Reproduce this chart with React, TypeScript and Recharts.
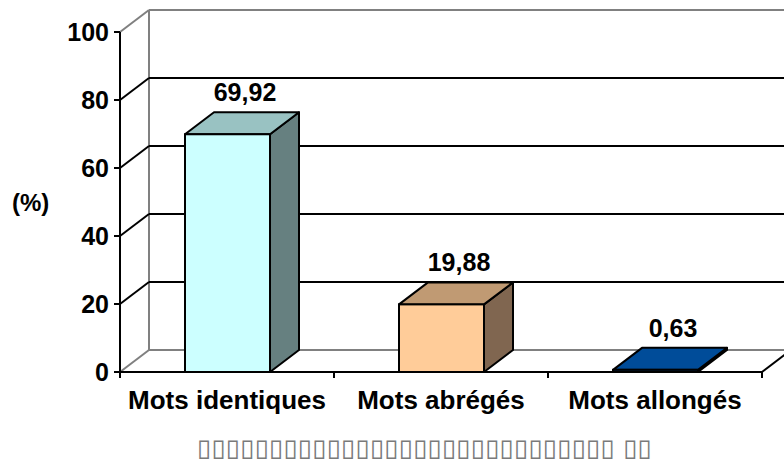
import React from 'react';
import { BarChart, Bar, XAxis, YAxis, CartesianGrid, LabelList } from 'recharts';

const categories = ['Mots identiques', 'Mots abrégés', 'Mots allongés'];
const values = [69.92, 19.88, 0.63];
const valueLabels = ['69,92', '19,88', '0,63'];
const yTicks = [0, 20, 40, 60, 80, 100];
const titleText = '▯▯▯▯▯▯▯▯▯▯▯▯▯▯▯▯▯▯▯▯▯▯▯▯▯▯▯▯▯ ▯▯';

const frontColors = ['#CCFFFF', '#FFCC99', '#004C99'];
const topColors = ['#99C2C2', '#C09A73', '#004C99'];
const sideColors = ['#668080', '#806650', '#003366'];

const data = categories.map((c, i) => ({ name: c, value: values[i], label: valueLabels[i] }));

const DX = 29;
const DY = 22;
const FONT = '"Liberation Sans", Arial, Helvetica, sans-serif';

const Box3D = (p: any) => {
  const { x, y, width, height, index } = p;
  if (x == null || y == null) return null;
  const w = width;
  const h = height;
  const top = `${x},${y} ${x + DX},${y - DY} ${x + w + DX},${y - DY} ${x + w},${y}`;
  const side = `${x + w},${y} ${x + w + DX},${y - DY} ${x + w + DX},${y + h - DY} ${x + w},${y + h}`;
  return (
    <g>
      <polygon points={side} fill={sideColors[index]} stroke="#000" strokeWidth={2} strokeLinejoin="round" />
      <polygon points={top} fill={topColors[index]} stroke="#000" strokeWidth={2} strokeLinejoin="round" />
      <rect x={x} y={y} width={w} height={h} fill={frontColors[index]} stroke="#000" strokeWidth={2} />
    </g>
  );
};

const gridLine = (p: any) => {
  const { x, y, width, height, y1, index } = p;
  const isEdge = Math.abs(y1 - (y + height)) < 0.5 || Math.abs(y1 - y) < 0.5;
  const color = isEdge ? '#808080' : '#000';
  return (
    <g key={`gl-${index}`}>
      <line x1={x} y1={y1} x2={x + DX} y2={y1 - DY} stroke={color} strokeWidth={2} />
      <line x1={x + DX} y1={y1 - DY} x2={x + width + DX + 40} y2={y1 - DY} stroke={color} strokeWidth={2} />
      {index === 0 && (
        <line x1={x + DX} y1={y - DY} x2={x + DX} y2={y + height - DY} stroke="#808080" strokeWidth={2} />
      )}
    </g>
  );
};

const XTick = (p: any) => {
  const { x, y, payload, index, visibleTicksCount } = p;
  const off = payload && payload.offset != null ? payload.offset : 107;
  const last = index === (visibleTicksCount != null ? visibleTicksCount : categories.length) - 1;
  return (
    <g>
      <line x1={x - off} y1={y} x2={x - off} y2={y + 6} stroke="#000" strokeWidth={2} />
      {last && <line x1={x + off} y1={y} x2={x + off} y2={y + 6} stroke="#000" strokeWidth={2} />}
      {last && <line x1={x + off} y1={y} x2={x + off + DX} y2={y - DY} stroke="#000" strokeWidth={2} />}
      <text x={x} y={y + 37} textAnchor="middle" fill="#000" fontFamily={FONT} fontWeight="bold" fontSize={26}>
        {payload.value}
      </text>
    </g>
  );
};

const ValueLabel = (p: any) => {
  const { x, y, width, index } = p;
  return (
    <text
      x={x + width / 2 + DX / 2 + 3}
      y={y - 42}
      textAnchor="middle"
      dominantBaseline="central"
      fill="#000"
      fontFamily={FONT}
      fontWeight="bold"
      fontSize={25}
    >
      {valueLabels[index]}
    </text>
  );
};

export default function App() {
  return (
    <div style={{ position: 'absolute', left: 0, top: 0, width: 784, height: 462, background: '#fff' }}>
      <BarChart
        width={784}
        height={462}
        data={data}
        margin={{ top: 32, right: 22, left: 0, bottom: 50 }}
        barCategoryGap={0}
      >
        <CartesianGrid vertical={false} horizontal={gridLine} />
        <XAxis
          dataKey="name"
          height={40}
          axisLine={{ stroke: '#000', strokeWidth: 2 }}
          tickLine={false}
          tickSize={0}
          tickMargin={0}
          tick={<XTick />}
          interval={0}
        />
        <YAxis
          width={120}
          domain={[0, 100]}
          ticks={yTicks}
          axisLine={{ stroke: '#000', strokeWidth: 2 }}
          tickLine={{ stroke: '#000', strokeWidth: 2 }}
          tickSize={6}
          tickMargin={5}
          tick={{ fill: '#000', fontFamily: FONT, fontWeight: 'bold', fontSize: 25 }}
          label={{
            value: '(%)',
            position: 'insideLeft',
            offset: 12,
            style: { fill: '#000', fontFamily: FONT, fontWeight: 'bold', fontSize: 24, textAnchor: 'start' },
          }}
        />
        <Bar dataKey="value" barSize={85} shape={<Box3D />} isAnimationActive={false}>
          <LabelList dataKey="label" content={<ValueLabel />} />
        </Bar>
      </BarChart>
      <svg style={{ position: 'absolute', left: 0, top: 0 }} width={784} height={462}>
        <text
          x={197}
          y={456}
          textLength={455}
          lengthAdjust="spacingAndGlyphs"
          fill="#7a7a7a"
          fontFamily="DejaVu Sans"
          fontSize={24}
        >
          {titleText}
        </text>
      </svg>
    </div>
  );
}
